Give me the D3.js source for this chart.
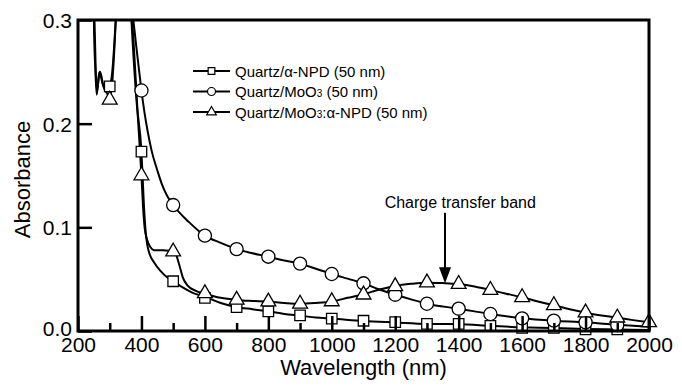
<!doctype html>
<html>
<head>
  <script src="https://d3js.org/d3.v7.min.js"></script>
  <style>
    body { margin: 0; background: #fff; }
    text { font-family: "Liberation Sans", Arial, sans-serif; fill: #000; }
  </style>
</head>
<body>
<svg width="682" height="389"></svg>
<script>
// traced curves [wavelength nm, absorbance]
var npdLine = [[245,0.45],[252,0.3],[256,0.25],[260,0.232],[264,0.24],[268,0.25],[272,0.246],[278,0.238],[285,0.235],
  [295,0.236],[300,0.237],[308,0.25],[315,0.28],[322,0.32],[330,0.4],[355,0.4],[365,0.32],[372,0.28],[385,0.22],
  [400,0.173],[408,0.12],[415,0.09],[425,0.075],[440,0.066],[460,0.058],[480,0.052],[500,0.048],[530,0.042],
  [560,0.037],[600,0.033],[650,0.027],[700,0.023],[750,0.021],[800,0.019],[850,0.0165],[900,0.0148],[950,0.013],
  [1000,0.012],[1100,0.0097],[1200,0.0082],[1300,0.0068],[1400,0.0066],[1500,0.005],[1600,0.0035],[1700,0.003],
  [1800,0.002],[1900,0.0015],[2000,0.001]];
var mooLine = [[360,0.4],[372,0.31],[380,0.285],[390,0.258],[400,0.232],[410,0.21],[420,0.192],[432,0.174],
  [450,0.155],[464,0.142],[480,0.131],[500,0.1215],[550,0.105],[600,0.092],[650,0.085],[700,0.079],[750,0.075],
  [800,0.0717],[850,0.068],[900,0.065],[950,0.06],[1000,0.055],[1050,0.0505],[1100,0.046],[1150,0.04],
  [1200,0.035],[1250,0.0305],[1300,0.0263],[1400,0.0215],[1500,0.0164],[1600,0.0124],[1700,0.010],
  [1800,0.0084],[1900,0.006],[2000,0.004]];
var mixLine = [[245,0.45],[250,0.3],[255,0.25],[259,0.228],[265,0.245],[269,0.25],[273,0.247],[280,0.236],
  [290,0.23],[300,0.226],[308,0.24],[316,0.28],[324,0.33],[333,0.4],[355,0.4],[366,0.32],[375,0.28],[388,0.21],
  [400,0.150],[405,0.12],[410,0.1],[418,0.088],[428,0.081],[440,0.078],[470,0.0778],[500,0.0772],[510,0.073],
  [520,0.063],[530,0.052],[545,0.044],[570,0.039],[600,0.036],[650,0.032],[700,0.030],[750,0.029],[800,0.0283],
  [850,0.027],[900,0.0262],[950,0.027],[1000,0.0285],[1050,0.032],[1100,0.0355],[1150,0.040],[1200,0.0435],
  [1250,0.0455],[1300,0.0466],[1350,0.0462],[1400,0.0453],[1450,0.043],[1500,0.0395],[1550,0.036],[1600,0.0325],
  [1650,0.0285],[1700,0.0248],[1750,0.021],[1800,0.0177],[1850,0.015],[1900,0.0128],[1950,0.0105],[2000,0.0084]];

// symbols every 100 nm
var npdMarks = [[300,0.236],[400,0.173],[500,0.048],[600,0.032],[700,0.023],[800,0.019],[900,0.015],[1000,0.012],
  [1100,0.0099],[1200,0.0085],[1300,0.0068],[1400,0.0068],[1500,0.005],[1600,0.003],[1700,0.003],[1800,0.0015],[1900,0.0015]];
var mooMarks = [[400,0.232],[500,0.1215],[600,0.092],[700,0.079],[800,0.0717],[900,0.065],[1000,0.055],[1100,0.046],
  [1200,0.035],[1300,0.0263],[1400,0.0215],[1500,0.0164],[1600,0.0122],[1700,0.010],[1800,0.0084],[1900,0.0058]];
var mixMarks = [[300,0.223],[400,0.150],[500,0.0765],[600,0.0363],[700,0.030],[800,0.0283],[900,0.0262],[1000,0.0285],
  [1100,0.035],[1200,0.043],[1300,0.0466],[1400,0.0453],[1500,0.0395],[1600,0.0325],[1700,0.0248],[1800,0.0177],
  [1900,0.0128],[2000,0.0084]];

var xTicks = [200,400,600,800,1000,1200,1400,1600,1800,2000];
var xMinor = [300,500,700,900,1100,1300,1500,1700,1900];
var yTicks = [0.0,0.1,0.2,0.3];
var legendNames = [["Quartz/\u03b1-NPD (50 nm)"], ["Quartz/MoO", "3", " (50 nm)"], ["Quartz/MoO", "3", ":\u03b1-NPD (50 nm)"]];
var bandLabel = "Charge transfer band";
var bandArrow = [[1357,0.114],[1357,0.046]];

var margin = {left: 78, top: 20, right: 33, bottom: 58};
var width = 682 - margin.left - margin.right;
var height = 389 - margin.top - margin.bottom;

var svg = d3.select("svg").append("g").attr("transform", "translate(" + margin.left + "," + margin.top + ")");

var x = d3.scaleLinear().domain([200, 2000]).range([0, width]);
var y = d3.scaleLinear().domain([0, 0.3]).range([height, 0]);

svg.append("clipPath").attr("id", "plot").append("rect")
  .attr("width", width).attr("height", height);

var line = d3.line()
  .x(function(d) { return x(d[0]) })
  .y(function(d) { return y(d[1]) })
  .curve(d3.curveMonotoneX);

[npdLine, mooLine, mixLine].forEach(function(s) {
  svg.append("path")
    .attr("clip-path", "url(#plot)")
    .attr("d", line(s))
    .attr("fill", "none")
    .attr("stroke", "#000")
    .attr("stroke-width", 2);
});

var shapes = [d3.symbolSquare, d3.symbolCircle, d3.symbolTriangle];
var sizes = [110, 135, 95];
[npdMarks, mooMarks, mixMarks].forEach(function(m, i) {
  svg.append("g").selectAll("path")
    .data(m)
    .enter()
    .append("path")
    .attr("transform", function(d) { return "translate(" + x(d[0]) + "," + y(d[1]) + ")" })
    .attr("d", d3.symbol().type(shapes[i]).size(sizes[i]))
    .attr("fill", "#fff")
    .attr("stroke", "#000")
    .attr("stroke-width", 1.3);
});

// axes with inward ticks
var xAxis = svg.append("g")
  .attr("transform", "translate(0," + height + ")")
  .call(d3.axisBottom(x).tickValues(xTicks).tickSize(-15).tickPadding(6).tickFormat(d3.format("d")));
svg.append("g")
  .attr("transform", "translate(0," + height + ")")
  .call(d3.axisBottom(x).tickValues(xMinor).tickSize(-8).tickFormat(""));
var yAxis = svg.append("g")
  .call(d3.axisLeft(y).tickValues(yTicks).tickSize(-14).tickPadding(6).tickFormat(d3.format(".1f")));

svg.selectAll(".domain").remove();
svg.selectAll(".tick line").attr("stroke", "#000").attr("stroke-width", 2.5);
svg.selectAll(".tick text").attr("font-size", "21px").attr("font-family", "Liberation Sans, Arial, sans-serif").attr("fill", "#000");
xAxis.selectAll(".tick text").attr("dy", "0.7em");
yAxis.selectAll(".tick text").attr("dy", function(d) { return d === 0 ? "0.2em" : "0.36em" });

svg.append("rect")
  .attr("width", width).attr("height", height)
  .attr("fill", "none").attr("stroke", "#000").attr("stroke-width", 3);

svg.append("text")
  .attr("x", width / 2).attr("y", height + 44)
  .attr("text-anchor", "middle").attr("font-size", "22px")
  .text("Wavelength (nm)");

svg.append("text")
  .attr("transform", "rotate(-90)")
  .attr("x", -height / 2 - 4).attr("y", -48)
  .attr("text-anchor", "middle").attr("font-size", "22px")
  .text("Absorbance");

// legend
var legend = svg.append("g").attr("transform", "translate(115,51)");
var legendSizes = [45, 50, 40];
legendNames.forEach(function(n, i) {
  var row = legend.append("g").attr("transform", "translate(0," + (i * 20.5) + ")");
  row.append("line").attr("x1", 0).attr("x2", 37).attr("stroke", "#000").attr("stroke-width", 2);
  row.append("path")
    .attr("transform", "translate(18.5,0)")
    .attr("d", d3.symbol().type(shapes[i]).size(legendSizes[i]))
    .attr("fill", "#fff").attr("stroke", "#000").attr("stroke-width", 1.2);
  var t = row.append("text").attr("x", 42).attr("y", 5.5).attr("font-size", "15px");
  t.append("tspan").text(n[0]);
  if (n.length > 1) {
    t.append("tspan").attr("font-size", "10px").text(n[1]);
    t.append("tspan").attr("font-size", "15px").text(n[2]);
  }
});

// annotation
svg.append("text")
  .attr("x", x(1405)).attr("y", y(0.1185))
  .attr("text-anchor", "middle").attr("font-size", "16px")
  .text(bandLabel);
svg.append("line")
  .attr("x1", x(bandArrow[0][0])).attr("y1", y(bandArrow[0][1]))
  .attr("x2", x(bandArrow[1][0])).attr("y2", y(bandArrow[1][1]) - 14)
  .attr("stroke", "#000").attr("stroke-width", 2);
svg.append("path")
  .attr("d", "M" + (x(bandArrow[1][0]) - 6) + "," + (y(bandArrow[1][1]) - 16) +
    "L" + (x(bandArrow[1][0]) + 6) + "," + (y(bandArrow[1][1]) - 16) +
    "L" + x(bandArrow[1][0]) + "," + y(bandArrow[1][1]) + "Z")
  .attr("fill", "#000");
</script>
</body>
</html>
